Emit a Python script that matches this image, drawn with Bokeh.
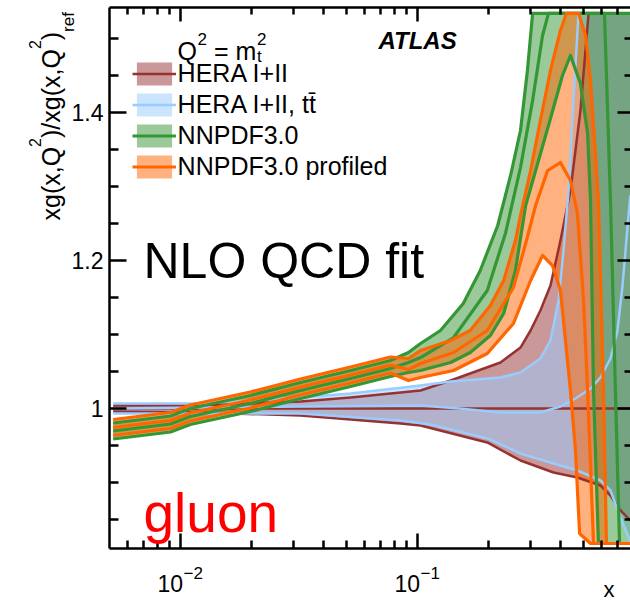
import math
from bokeh.plotting import figure
from bokeh.models import (Range1d, FixedTicker, LinearAxis, LogAxis, Legend, LegendItem,
                          Label, CustomJSTickFormatter)
from bokeh.embed import file_html
from bokeh.resources import INLINE

# ---------------- data ----------------
# HERA I+II (reference fit): central value = 1, uncertainty band
hera_c_x = [0.0052, 0.79]
hera_c = [1.0, 1.0]
hera_up_x = [0.0052, 0.0121, 0.0321, 0.0522, 0.0848, 0.103, 0.138, 0.224, 0.272, 0.300,
             0.330, 0.364, 0.401, 0.442, 0.487, 0.527, 0.79]
hera_up = [1.0041, 1.0041, 1.0095, 1.0149, 1.0216, 1.0243, 1.0378, 1.0622, 1.0824, 1.1054,
           1.1324, 1.1662, 1.2270, 1.2946, 1.4027, 1.534, 1.534]
hera_dn_x = [0.0052, 0.0121, 0.0321, 0.0522, 0.0848, 0.103, 0.197, 0.272, 0.375, 0.473,
             0.592, 0.652, 0.719, 0.79]
hera_dn = [0.9959, 0.9946, 0.9905, 0.9851, 0.9797, 0.9770, 0.9541, 0.9297, 0.9135, 0.9068,
           0.8959, 0.8824, 0.8622, 0.8486]

# HERA I+II, ttbar
htt_c_x = [0.0052, 0.0321, 0.103, 0.150, 0.224, 0.330, 0.401, 0.464, 0.537, 0.592,
           0.652, 0.698, 0.733, 0.79]
htt_c = [1.0, 1.0027, 1.0041, 1.0, 0.9946, 0.9946, 1.0027, 1.0135, 1.0270, 1.0419,
         1.0676, 1.1054, 1.1662, 1.2878]
htt_up_x = [0.0052, 0.0121, 0.0321, 0.0522, 0.103, 0.138, 0.224, 0.272, 0.330, 0.364,
            0.394, 0.413, 0.434, 0.455, 0.478, 0.79]
htt_up = [1.0068, 1.0068, 1.0149, 1.0203, 1.0311, 1.0365, 1.0419, 1.0486, 1.0676, 1.0919,
          1.1459, 1.2135, 1.2946, 1.4162, 1.534, 1.534]
htt_dn_x = [0.0052, 0.0321, 0.0848, 0.1135, 0.197, 0.272, 0.375, 0.473, 0.592, 0.652,
            0.719, 0.79]
htt_dn = [0.9932, 0.9932, 0.9838, 0.9784, 0.9595, 0.9392, 0.9257, 0.9162, 0.9027, 0.8892,
          0.8527, 0.8203]

# NNPDF3.0
nn_up_x = [0.0052, 0.00908, 0.0110, 0.0197, 0.0321, 0.0522, 0.0769, 0.0916, 0.103, 0.125,
           0.156, 0.184, 0.218, 0.247, 0.272, 0.291, 0.306, 0.79]
nn_up = [0.9804, 0.9899, 1.0, 1.0176, 1.0351, 1.0514, 1.0649, 1.0757, 1.0878, 1.1054,
         1.1419, 1.1865, 1.2473, 1.3149, 1.3757, 1.4568, 1.534, 1.534]
nn_c_x = [0.0052, 0.00908, 0.0110, 0.0197, 0.0321, 0.0522, 0.0769, 0.0916, 0.103, 0.142,
          0.197, 0.235, 0.272, 0.306, 0.337, 0.357, 0.615, 0.652, 0.684, 0.712, 0.79]
nn_c = [0.9696, 0.9791, 0.9892, 1.0068, 1.0243, 1.0405, 1.0541, 1.0622, 1.0689, 1.0959,
        1.1595, 1.2365, 1.3257, 1.4162, 1.5041, 1.534, 1.534, 1.2811, 1.0243, 0.8176, 0.8176]
nn_dn_x = [0.0052, 0.00908, 0.0110, 0.0197, 0.0321, 0.0522, 0.0769, 0.0916, 0.103, 0.138,
           0.167, 0.203, 0.231, 0.259, 0.286, 0.364, 0.409, 0.442, 0.487, 0.522,
           0.537, 0.553, 0.580, 0.79]
nn_dn = [0.9588, 0.9682, 0.9784, 0.9959, 1.0135, 1.0297, 1.0432, 1.0486, 1.0514, 1.0622,
         1.0757, 1.0986, 1.1284, 1.1865, 1.2743, 1.3919, 1.4500, 1.4770, 1.4392, 1.3716,
         1.2811, 1.0243, 0.8176, 0.8176]

# NNPDF3.0 profiled
pr_up_x = [0.0052, 0.00908, 0.0110, 0.0197, 0.0321, 0.0522, 0.0769, 0.0916, 0.103, 0.138,
           0.167, 0.203, 0.231, 0.259, 0.272, 0.300, 0.330, 0.364, 0.401, 0.425,
           0.478, 0.512, 0.537, 0.558, 0.580, 0.609, 0.627]
pr_up = [0.9851, 0.9946, 1.0047, 1.0223, 1.0399, 1.0561, 1.0696, 1.0676, 1.0784, 1.0919,
         1.1054, 1.1392, 1.1730, 1.2270, 1.2608, 1.3216, 1.3892, 1.4568, 1.5108, 1.534,
         1.534, 1.5041, 1.4432, 1.3622, 1.2811, 1.0243, 0.8176]
pr_c_x = [0.0052, 0.00908, 0.0110, 0.0197, 0.0321, 0.0522, 0.0769, 0.0916, 0.103, 0.142,
          0.197, 0.254, 0.286, 0.315, 0.354, 0.401, 0.442, 0.473, 0.502, 0.522, 0.553]
pr_c = [0.9743, 0.9838, 0.9939, 1.0115, 1.0291, 1.0453, 1.0588, 1.0527, 1.0608, 1.0757,
        1.1054, 1.1635, 1.2230, 1.2743, 1.3216, 1.3324, 1.3081, 1.2635, 1.1459, 1.0243, 0.8176]
pr_dn_x = [0.0052, 0.00908, 0.0110, 0.0197, 0.0321, 0.0522, 0.0769, 0.0916, 0.103, 0.142,
           0.197, 0.254, 0.300, 0.337, 0.371, 0.401, 0.442, 0.464, 0.483, 0.537, 0.79]
pr_dn = [0.9635, 0.9730, 0.9831, 1.0007, 1.0182, 1.0345, 1.0480, 1.0378, 1.0419, 1.0514,
         1.0743, 1.1149, 1.1730, 1.2068, 1.1932, 1.1595, 1.0243, 0.9432, 0.8311, 0.8176, 0.8176]

series_labels = ["HERA I+II", "HERA I+II, t\u0074\u0304", "NNPDF3.0", "NNPDF3.0 profiled"]

# ticks
y_major = [1.0, 1.2, 1.4]
y_tick_labels = ["1", "1.2", "1.4"]
y_minor = [0.85, 0.9, 0.95, 1.05, 1.1, 1.15, 1.25, 1.3, 1.35, 1.45, 1.5]
x_major = [0.01, 0.1]
x_tick_base = ["10", "10"]
x_tick_exp = ["\u22122", "\u22121"]
x_minor = [0.006, 0.007, 0.008, 0.009, 0.02, 0.03, 0.04, 0.05, 0.06, 0.07, 0.08, 0.09,
           0.2, 0.3, 0.4, 0.5, 0.6, 0.7]

# ---------------- layout / styling ----------------
FONT = "Liberation Sans"
RED, BLUE, GREEN, ORANGE = "#963232", "#99CCFF", "#359635", "#FF6600"
W, H = 630, 600


def px2x(px):  # page pixel column -> x value (log axis, 237 px per decade, 0.01 at px 180)
    return 10 ** ((px - 180.0) / 237.0 - 2.0)


def py2y(py):  # page pixel row -> y value (740 px per unit, 1.0 at px 408)
    return 1.0 + (408.0 - py) / 740.0


# axis box of the reference
AX_L, AX_R, AX_T, AX_B = 109, 631, 7, 548

p = figure(width=W, height=H, x_axis_type="log",
           x_range=Range1d(px2x(0), px2x(W)), y_range=Range1d(py2y(H), py2y(0)),
           output_backend="svg", toolbar_location=None,
           min_border_left=0, min_border_right=0, min_border_top=0, min_border_bottom=0)
p.outline_line_color = None
p.xgrid.visible = False
p.ygrid.visible = False
p.background_fill_color = "white"
p.border_fill_color = "white"

EMPTY_FMT = "return '';"
XB = (px2x(AX_L), px2x(AX_R))
YB = (py2y(AX_B), py2y(AX_T))


def style_axis(ax, major_len, minor_len, show_line=True, hide_labels=True):
    ax.major_tick_in = major_len
    ax.major_tick_out = 0
    ax.minor_tick_in = minor_len
    ax.minor_tick_out = 0
    ax.major_tick_line_width = 2.5
    ax.minor_tick_line_width = 2.5
    ax.major_tick_line_color = "black"
    ax.minor_tick_line_color = "black"
    ax.axis_line_width = 2.5
    ax.axis_line_color = "black" if show_line else None
    if hide_labels:
        ax.formatter = CustomJSTickFormatter(code=EMPTY_FMT)
        ax.major_label_text_font_size = "0px"
        ax.major_label_standoff = 0


left = p.left[0]
left.ticker = FixedTicker(ticks=y_major, minor_ticks=y_minor)
style_axis(left, 17, 9, hide_labels=False)
left.formatter = CustomJSTickFormatter(
    args=dict(yvals=y_major, ylabs=y_tick_labels),
    code="for (let k = 0; k < yvals.length; k++) { if (Math.abs(yvals[k] - tick) < 1e-9) { return ylabs[k]; } } return '';")
left.major_label_text_font = FONT
left.major_label_text_font_size = "23px"
left.major_label_text_color = "black"
left.major_label_standoff = 6
left.fixed_location = px2x(AX_L)
left.bounds = YB

bottom = p.below[0]
bottom.ticker = FixedTicker(ticks=x_major, minor_ticks=x_minor)
style_axis(bottom, 15, 8)
bottom.fixed_location = py2y(AX_B)
bottom.bounds = XB

top = LogAxis(ticker=FixedTicker(ticks=x_major, minor_ticks=x_minor))
style_axis(top, 14, 7)
top.fixed_location = py2y(AX_T)
top.bounds = XB
p.add_layout(top, "above")

right = LinearAxis(ticker=FixedTicker(ticks=y_major, minor_ticks=y_minor))
style_axis(right, 14, 7, show_line=False)
right.fixed_location = px2x(AX_R)
right.bounds = YB
p.add_layout(right, "right")


def band(xu, yu, xd, yd):
    return list(xu) + list(xd)[::-1], list(yu) + list(yd)[::-1]


# fills
bx, by = band(hera_up_x, hera_up, hera_dn_x, hera_dn)
f_hera = p.patch(bx, by, fill_color=RED, fill_alpha=0.5, line_color=None)
bx, by = band(htt_up_x, htt_up, htt_dn_x, htt_dn)
f_htt = p.patch(bx, by, fill_color=BLUE, fill_alpha=0.5, line_color=None)
bx, by = band(nn_up_x, nn_up, nn_dn_x, nn_dn)
f_nn = p.patch(bx, by, fill_color=GREEN, fill_alpha=0.5, line_color=None)
bx, by = band(pr_up_x, pr_up, pr_dn_x, pr_dn)
f_pr = p.patch(bx, by, fill_color=ORANGE, fill_alpha=0.5, line_color=None)

# lines
LW_H, LW_N = 2.5, 3.2
p.line(hera_up_x, hera_up, line_color=RED, line_width=LW_H, line_join="round")
p.line(hera_dn_x, hera_dn, line_color=RED, line_width=LW_H, line_join="round")
l_hera = p.line(hera_c_x, hera_c, line_color=RED, line_width=LW_H, line_join="round")
p.line(htt_up_x, htt_up, line_color=BLUE, line_width=LW_H, line_join="round")
p.line(htt_dn_x, htt_dn, line_color=BLUE, line_width=LW_H, line_join="round")
l_htt = p.line(htt_c_x, htt_c, line_color=BLUE, line_width=LW_H, line_join="round")
p.line(nn_up_x, nn_up, line_color=GREEN, line_width=LW_N, line_join="round")
p.line(nn_dn_x, nn_dn, line_color=GREEN, line_width=LW_N, line_join="round")
l_nn = p.line(nn_c_x, nn_c, line_color=GREEN, line_width=LW_N, line_join="round")
p.line(pr_up_x, pr_up, line_color=ORANGE, line_width=LW_N, line_join="round")
p.line(pr_dn_x, pr_dn, line_color=ORANGE, line_width=LW_N, line_join="round")
l_pr = p.line(pr_c_x, pr_c, line_color=ORANGE, line_width=LW_N, line_join="round")

# legend (location in px from the bottom-left corner of the frame)
legend = Legend(items=[
    LegendItem(label=series_labels[0], renderers=[f_hera, l_hera]),
    LegendItem(label=series_labels[1], renderers=[f_htt, l_htt]),
    LegendItem(label=series_labels[2], renderers=[f_nn, l_nn]),
    LegendItem(label=series_labels[3], renderers=[f_pr, l_pr]),
], location=(131.6, 419.3), glyph_width=44, glyph_height=29, label_height=29,
    label_standoff=2, spacing=2, padding=0, margin=0,
    border_line_alpha=0, background_fill_alpha=0,
    label_text_font=FONT, label_text_font_size="25px", label_text_color="black")
p.add_layout(legend)


def add_text(text, px, py, size, color="black", style="normal", angle=0.0, align="left"):
    p.add_layout(Label(x=px2x(px), y=py2y(py), text=text, text_font=FONT,
                       text_font_size=f"{size}px", text_color=color, text_font_style=style,
                       angle=angle, text_align=align, text_baseline="alphabetic"))


# legend header Q^2 = m_t^2
add_text("Q", 177, 50, 25)
add_text("2", 197, 38, 17)
add_text("= m", 213.5, 50, 25)
add_text("2", 256.5, 38, 17)
add_text("t", 256.5, 56, 17)

add_text("ATLAS", 378, 40, 24, style="bold italic")
add_text("NLO QCD fit", 143, 260, 50)
add_text("gluon", 143, 512, 55, color="#FF0000")
add_text("x", 603, 589, 22)

# y-axis title (rotated)
R = math.pi / 2
add_text("xg(x,Q", 50, 220, 25, angle=R)
add_text("2", 34, 146.4, 16, angle=R)
add_text(")/xg(x,Q", 50, 137.5, 25, angle=R)
add_text("2", 34, 48.6, 16, angle=R)
add_text(")", 50, 39.7, 25, angle=R)
add_text("ref", 68, 31.4, 17, angle=R)

# x tick labels 10^-2, 10^-1 at the major tick positions
for t, b, e in zip(x_major, x_tick_base, x_tick_exp):
    tp = 180 + 237 * (math.log10(t) + 2)
    add_text(b, tp + 2.5, 583, 23, align="right")
    add_text(e, tp + 3, 572, 17)

open("out.html", "w").write(file_html(p, INLINE, title="gluon ratio"))
